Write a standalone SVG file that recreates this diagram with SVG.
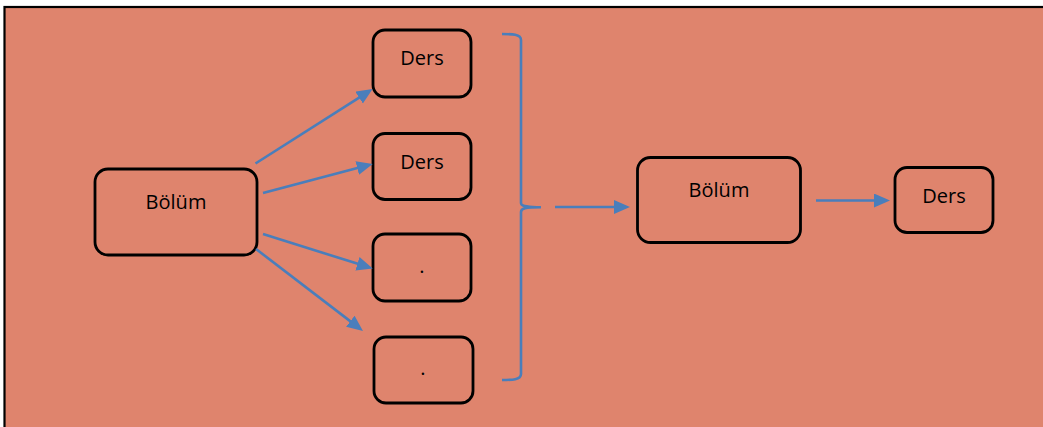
<svg xmlns="http://www.w3.org/2000/svg" width="1043" height="427" viewBox="0 0 1043 427">
  <defs>
    <marker id="ah" markerUnits="userSpaceOnUse" markerWidth="17" markerHeight="15" refX="8" refY="7" orient="auto">
      <path d="M0,0 L16,7 L0,14 z" fill="#4A7EBB"/>
    </marker>
    <style>
      .node rect { fill: #DF846D; stroke: #000; stroke-width: 2.8; }
      .node text { font-family: "Open Sans", "Liberation Sans", sans-serif; font-size: 20px; fill: #000; text-anchor: middle; }
      .conn line { stroke: #4A7EBB; stroke-width: 2.6; marker-end: url(#ah); }
      .brace { fill: none; stroke: #4A7EBB; stroke-width: 2.6; }
    </style>
  </defs>
  <rect x="0" y="0" width="1043" height="427" fill="#FFFFFF"/>
  <rect x="4.5" y="7" width="1045" height="430" fill="#DF846D" stroke="#000" stroke-width="2.2"/>

  <g id="bolum1" class="node">
    <rect x="95" y="169" width="162" height="86" rx="13"/>
    <text x="176" y="209">Bölüm</text>
  </g>
  <g id="ders1" class="node">
    <rect x="373" y="30" width="98" height="67" rx="12"/>
    <text x="422" y="65.3">Ders</text>
  </g>
  <g id="ders2" class="node">
    <rect x="373" y="133.5" width="98" height="66" rx="12"/>
    <text x="422" y="169.3">Ders</text>
  </g>
  <g id="dot1" class="node">
    <rect x="373" y="234" width="98" height="67" rx="12"/>
    <text x="422" y="272.5">.</text>
  </g>
  <g id="dot2" class="node">
    <rect x="374" y="337" width="99" height="66" rx="12"/>
    <text x="423" y="374.5">.</text>
  </g>
  <g id="bolum2" class="node">
    <rect x="637.5" y="157.5" width="163" height="85" rx="13"/>
    <text x="719" y="197">Bölüm</text>
  </g>
  <g id="ders3" class="node">
    <rect x="895" y="167.5" width="98" height="65" rx="12"/>
    <text x="944" y="203">Ders</text>
  </g>

  <g id="connectors" class="conn">
    <line x1="255.5" y1="163.5" x2="365.85" y2="93.29"/>
    <line x1="263" y1="193" x2="364.97" y2="166.04"/>
    <line x1="263" y1="234" x2="365.07" y2="266.1"/>
    <line x1="256" y1="249" x2="356.65" y2="326.13"/>
    <line x1="555" y1="207" x2="622" y2="207"/>
    <line x1="816" y1="200.5" x2="882" y2="200.5"/>
    <path class="brace" d="M502,34 C512,34 521,34 521,40 L521,203 C521,206 525,207 541,207.3 M541,207.3 C525,207.3 521,208.5 521,212 L521,374 C521,380 512,380 502,380"/>
  </g>
</svg>
